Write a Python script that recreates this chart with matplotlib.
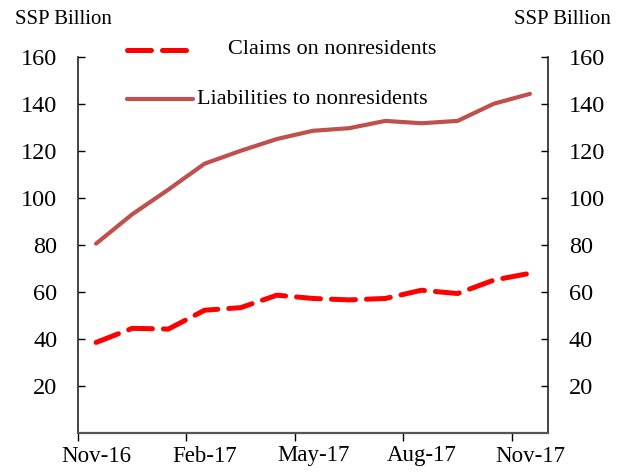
import matplotlib.pyplot as plt
from matplotlib.lines import Line2D

plt.rcParams['font.family'] = ['Liberation Serif', 'DejaVu Serif']

months = ['Nov-16', 'Dec-16', 'Jan-17', 'Feb-17', 'Mar-17', 'Apr-17', 'May-17',
          'Jun-17', 'Jul-17', 'Aug-17', 'Sep-17', 'Oct-17', 'Nov-17']
claims = [38.5, 44.5, 44.2, 52.2, 53.3, 58.6, 57.2, 56.6, 57.2, 60.7, 59.3, 65.0, 67.9]
liabilities = [80.5, 93.0, 103.5, 114.5, 120.0, 125.0, 128.5, 129.6, 132.7, 131.7, 132.7, 140.0, 144.2]

fig = plt.figure(figsize=(6.26, 4.74), dpi=100)
ax = fig.add_axes([78/626, 1-433/474, 470/626, (433-56.7)/474])

x = list(range(len(months)))
ax.plot(x, liabilities, color='#C0504D', lw=3.0, solid_capstyle='round')
ax.plot(x, claims, color='#FF0000', lw=3.6, dashes=(4.8, 2.2), dash_capstyle='round')

ax.set_xlim(-0.5, len(months) - 0.5)
ax.set_ylim(0, 160)

# y ticks both sides, inward
ax.set_yticks(range(20, 161, 20))
ax.tick_params(axis='y', which='major', direction='in', length=5, width=1,
               left=True, right=True, labelleft=True, labelright=True,
               labelsize=17.5, pad=15, colors='black')

# x: tick marks between categories, labels at category centers
ax.set_xticks([i - 0.5 for i in range(0, len(months), 3)])
ax.set_xticklabels([])
ax.set_xticks(x[::3], minor=True)
ax.set_xticklabels(months[::3], minor=True)
ax.tick_params(axis='x', which='major', direction='out', length=6, width=1)
ax.tick_params(axis='x', which='minor', length=0, labelsize=16.5, pad=9)

ax.spines['top'].set_visible(False)
for s in ['left', 'right']:
    ax.spines[s].set_linewidth(1.2)
    ax.spines[s].set_color('#222222')
ax.spines['bottom'].set_linewidth(1.6)
ax.spines['bottom'].set_color('#555555')

fig.text(15/626, 1-20/474, 'SSP Billion', fontsize=15, va='center', ha='left')
fig.text(611/626, 1-20/474, 'SSP Billion', fontsize=15, va='center', ha='right')

# legend drawn by hand to keep Excel-like placement
fig.add_artist(Line2D([127/626, 190/626], [1-50/474, 1-50/474], color='#FF0000',
                      lw=3.6, dashes=(4.8, 2.2), dash_capstyle='round'))
fig.text(228/626, 1-50/474, 'Claims on nonresidents', fontsize=16, va='center')
fig.add_artist(Line2D([127/626, 193/626], [1-99/474, 1-99/474], color='#C0504D',
                      lw=3.0, solid_capstyle='round'))
fig.text(197/626, 1-99/474, 'Liabilities to nonresidents', fontsize=16, va='center')

fig.savefig('out.png', dpi=100)
